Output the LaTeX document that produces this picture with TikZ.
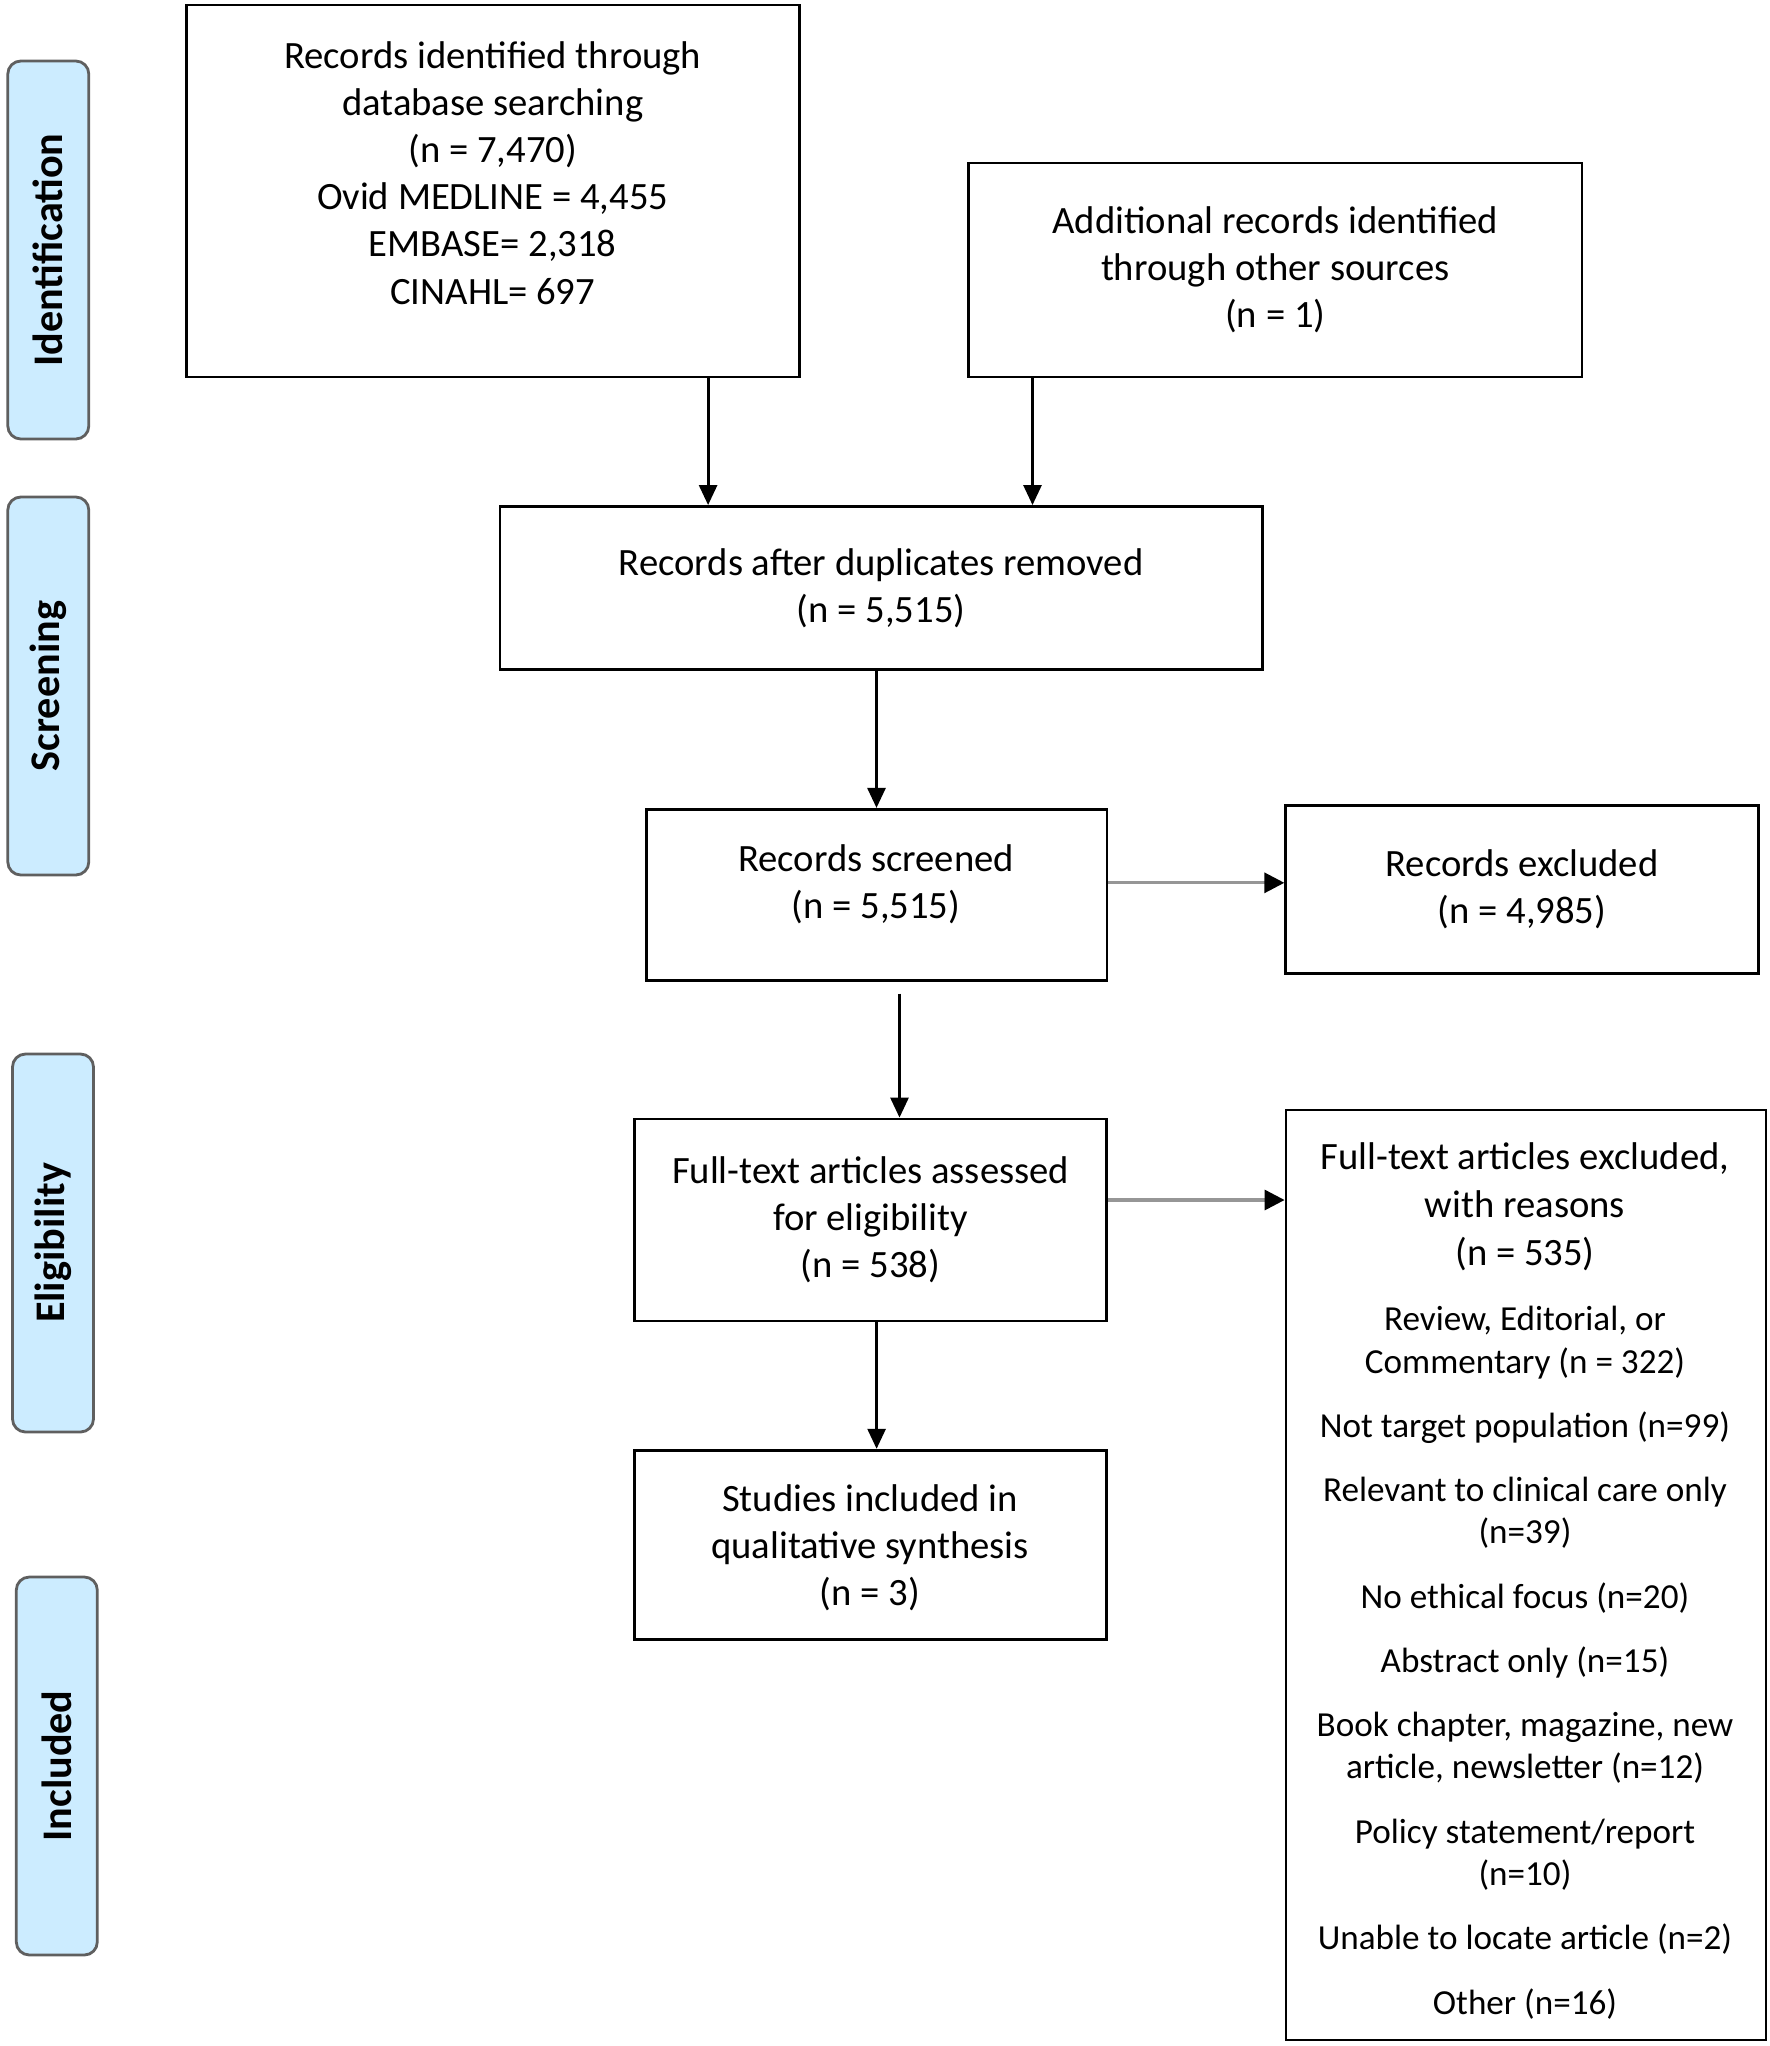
\documentclass[tikz,border=0pt]{standalone}
\usepackage{fontspec}
\setmainfont{Carlito}
\usepackage{tikz}
\usetikzlibrary{positioning,arrows.meta,calc}
\definecolor{phaseblue}{RGB}{204,236,255}
\definecolor{phaseedge}{RGB}{95,95,95}
\definecolor{sidegray}{RGB}{150,150,150}
\newcommand{\exclhead}{\fontsize{11}{13.4}\selectfont}

\begin{document}
\begin{tikzpicture}[
  phase/.style={draw=phaseedge, fill=phaseblue, line width=0.8pt, rounded corners=0.13cm,
    rotate=90, minimum width=3.78cm, minimum height=0.81cm, inner sep=0pt,
    font=\fontsize{12}{14}\selectfont\bfseries},
  stage/.style={draw, line width=0.8pt, align=center, inner sep=0pt,
    font=\fontsize{11}{13.4}\selectfont},
  flow/.style={line width=0.8pt, -{Triangle[length=0.2cm,width=0.18cm]}},
  sideflow/.style={draw=sidegray, line width=0.9pt, -{Triangle[length=0.2cm,width=0.2cm,color=black]}}
]
\useasboundingbox (0,0) rectangle (17.7,-20.46);

% Phase labels
\node[phase] (ident) at (0.483,-2.50) {Identification};
\node[phase] (screen) at (0.483,-6.86) {Screening};
\node[phase] (elig) at (0.53,-12.43) {Eligibility};
\node[phase] (incl) at (0.568,-17.66) {Included};

% Identification
\node[stage, minimum width=6.13cm, minimum height=3.72cm] (dbsearch) at (4.931,-1.91) {};
\node[align=center, font=\fontsize{11}{13.4}\selectfont] (dbtext) at (4.927,-1.73)
  {Records identified through\\ database searching\\ (n = 7,470)\\ Ovid MEDLINE = 4,455\\ EMBASE= 2,318\\ CINAHL= 697};
\node[stage, minimum width=6.135cm, minimum height=2.14cm] (othersrc) at (12.753,-2.70)
  {Additional records identified\\ through other sources\\ (n = 1)};

% Screening
\node[stage, minimum width=7.622cm, minimum height=1.631cm] (dedup) at (8.811,-5.88)
  {Records after duplicates removed\\ (n = 5,515)};
\node[stage, minimum width=4.608cm, minimum height=1.71cm] (screened) at (8.765,-8.948) {};
\node[align=center, font=\fontsize{11}{13.4}\selectfont] (screentext) at (8.76,-8.84)
  {Records screened\\ (n = 5,515)};
\node[stage, minimum width=4.725cm, minimum height=1.684cm] (excl) at (15.22,-8.896)
  {Records excluded\\ (n = 4,985)};

% Eligibility
\node[stage, minimum width=4.725cm, minimum height=2.02cm] (fulltext) at (8.706,-12.20)
  {Full-text articles assessed\\ for eligibility\\ (n = 538)};
\node[stage, minimum width=4.80cm, minimum height=9.30cm] (ftexcl) at (15.26,-15.75) {};
\node[align=center, font=\fontsize{10}{12}\selectfont] (ftexcltext) at (15.25,-15.81)
  {{\exclhead Full-text articles excluded,}\\[1.6pt]
   {\exclhead with reasons}\\[1.6pt]
   {\exclhead (n = 535)}\\[6.6pt]
   Review, Editorial, or\\
   Commentary (n = 322)\\[6.3pt]
   Not target population (n=99)\\[6.3pt]
   Relevant to clinical care only\\
   (n=39)\\[6.3pt]
   No ethical focus (n=20)\\[6.3pt]
   Abstract only (n=15)\\[6.3pt]
   Book chapter, magazine, new\\
   article, newsletter (n=12)\\[6.3pt]
   Policy statement/report\\
   (n=10)\\[6.3pt]
   Unable to locate article (n=2)\\[6.3pt]
   Other (n=16)};

% Included
\node[stage, minimum width=4.725cm, minimum height=1.894cm] (included) at (8.706,-15.449) {};
\node[align=center, font=\fontsize{11}{13.4}\selectfont] (incltext) at (8.70,-15.48)
  {Studies included in\\ qualitative synthesis\\ (n = 3)};

% Connectors
\draw[flow] ([xshift=2.15cm]dbsearch.south) -- ([xshift=2.15cm]dbsearch.south |- dedup.north);
\draw[flow] ([xshift=-2.428cm]othersrc.south) -- ([xshift=-2.428cm]othersrc.south |- dedup.north);
\draw[flow] (dedup.south -| screened.north) -- (screened.north);
\draw[flow] ([xshift=0.23cm,yshift=-0.12cm]screened.south) -- ([xshift=0.23cm]screened.south |- fulltext.north);
\draw[flow] ([xshift=0.06cm]fulltext.south) -- ([xshift=0.06cm]fulltext.south |- included.north);
\draw[sideflow] ([yshift=0.12cm]screened.east) -- ([yshift=0.12cm]screened.east -| excl.west);
\draw[sideflow] ([yshift=0.2cm]fulltext.east) -- ([yshift=0.2cm]fulltext.east -| ftexcl.west);
\end{tikzpicture}
\end{document}
